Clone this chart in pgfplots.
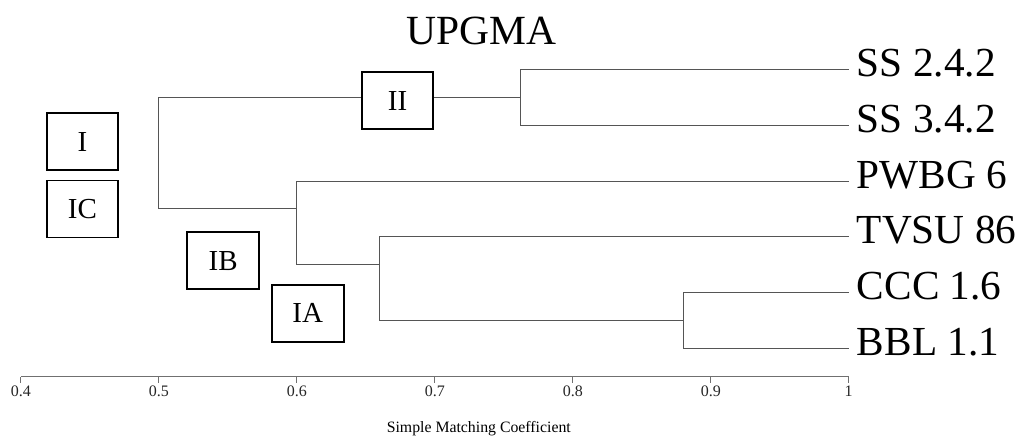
\documentclass[border=0pt]{standalone}
\usepackage{fontspec}
\setmainfont{Liberation Serif}
\usepackage{pgfplots}
\pgfplotsset{compat=1.18}
\definecolor{treeline}{HTML}{555555}
\definecolor{axisgray}{HTML}{707070}
\begin{document}
\begin{tikzpicture}
\begin{axis}[
  scale only axis, width=827.7bp, height=376.7bp,
  xmin=0.4, xmax=1, ymin=0.5, ymax=7.238,
  axis x line=bottom, axis y line=none,
  axis line style={-, draw=axisgray, line width=1bp},
  xtick={0.4,0.5,0.6,0.7,0.8,0.9,1},
  xticklabels={0.4,0.5,0.6,0.7,0.8,0.9,1},
  tick align=outside, major tick length=6bp,
  x tick style={draw=axisgray, line width=1bp},
  xticklabel style={anchor=base, inner sep=0pt, yshift=-14.3bp,
    font=\fontsize{16bp}{18bp}\selectfont, text=black!85},
  clip=false,
  tree/.style={draw=treeline, line width=1bp, no marks, line join=miter},
]
% dendrogram branches (x = similarity, y = leaf slot)
\addplot[tree] coordinates {(1,6) (0.762,6) (0.762,5) (1,5)};
\addplot[tree] coordinates {(0.762,5.5) (0.5,5.5) (0.5,3.5) (0.6,3.5)};
\addplot[tree] coordinates {(1,4) (0.6,4) (0.6,2.5) (0.66,2.5)};
\addplot[tree] coordinates {(1,3) (0.66,3) (0.66,1.5) (0.88,1.5)};
\addplot[tree] coordinates {(1,2) (0.88,2) (0.88,1) (1,1)};

% leaf labels
\foreach \yy/\lab in {6/SS 2.4.2, 5/SS 3.4.2, 4/PWBG 6, 3/TVSU 86, 2/CCC 1.6, 1/BBL 1.1}{
  \edef\tmp{\noexpand\node[anchor=base west, inner sep=0pt, xshift=8bp, yshift=-7bp,
    font=\noexpand\fontsize{41.3bp}{45bp}\noexpand\selectfont] at (axis cs:1,\yy) {\lab};}
  \tmp
}

% cluster boxes
\tikzset{cbox/.style={draw=black, line width=1.8bp, fill=white, minimum width=71.7bp,
  minimum height=57bp, inner sep=0pt, font=\fontsize{29bp}{32bp}\selectfont}}
\node[cbox] at (axis cs:0.44458,4.704) {I};
\node[cbox] at (axis cs:0.44458,3.500) {IC};
\node[cbox] at (axis cs:0.54657,2.574) {IB};
\node[cbox] at (axis cs:0.60790,1.637) {IA};
\node[cbox] at (axis cs:0.67293,5.437) {II};

% title and axis label
\node[inner sep=0pt, font=\fontsize{41.5bp}{45bp}\selectfont] at (axis cs:0.73367,6.684) {UPGMA};
\node[inner sep=0pt, font=\fontsize{15.8bp}{18bp}\selectfont] at (axis cs:0.73186,-0.4346) {Simple Matching Coefficient};

\coordinate (bbA) at (axis cs:0.38478,-0.5598);
\coordinate (bbB) at (axis cs:1.12925,7.238);
\end{axis}
\pgfresetboundingbox
\useasboundingbox (bbA) rectangle (bbB);
\end{tikzpicture}
\end{document}
